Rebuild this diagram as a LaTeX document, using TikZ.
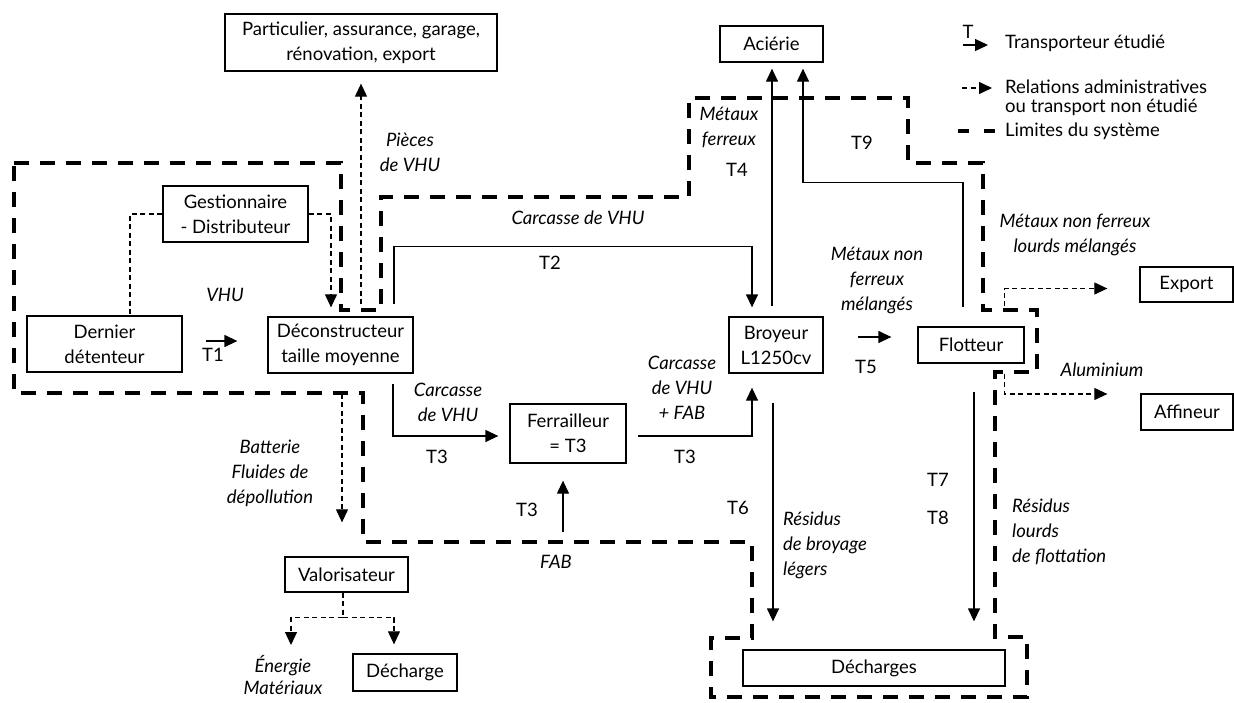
\documentclass[tikz,border=0pt]{standalone}
\usepackage{fontspec}
\setmainfont{Lato}
\usetikzlibrary{arrows.meta,calc}
\newcommand\myfs{\fontsize{18.5}{25}\selectfont}
\begin{document}
\begin{tikzpicture}[x=1pt,y=-1pt,
 box/.style={draw, line width=1.3pt, inner sep=0pt, align=center, font=\myfs},
 flow/.style={line width=1.3pt, -{Triangle[length=13pt,width=12pt]}},
 admin/.style={line width=1.1pt, dash pattern=on 5pt off 3.5pt},
 adminarrow/.style={admin, -{Triangle[length=13pt,width=12pt]}},
 limit/.style={line width=3.2pt, dash pattern=on 15pt off 11pt, line join=miter},
 lab/.style={font=\myfs\itshape, align=center, inner sep=0pt},
 labl/.style={font=\myfs\itshape, align=left, inner sep=0pt},
 tlab/.style={font=\myfs, inner sep=0pt, align=left}]
\fill[white] (0,0) rectangle (1234,702);
\useasboundingbox (0,0) rectangle (1234,702);

% boxes
\node[box, minimum width=272pt, minimum height=57pt] (part) at (361,42.5) {Particulier, assurance, garage,\\rénovation, export};
\node[box, minimum width=103pt, minimum height=36pt] (acier) at (771.5,44) {Aciérie};
\node[box, minimum width=145pt, minimum height=56pt] (gest) at (235.5,214) {Gestionnaire\\- Distributeur};
\node[box, minimum width=155pt, minimum height=56pt] (dern) at (104.5,344) {Dernier\\détenteur};
\node[box, minimum width=145pt, minimum height=56pt] (decon) at (340.5,345) {Déconstructeur\\taille moyenne};
\node[box, minimum width=94pt, minimum height=56pt] (broy) at (776,345) {Broyeur\\L1250cv};
\node[box, minimum width=106pt, minimum height=36pt] (flot) at (971,345) {Flotteur};
\node[box, minimum width=116pt, minimum height=59pt] (ferr) at (568,433.5) {Ferrailleur\\= T3};
\node[box, minimum width=93pt, minimum height=35pt] (export) at (1186.5,284.5) {Export};
\node[box, minimum width=92pt, minimum height=36pt] (affin) at (1187,412) {Affineur};
\node[box, minimum width=123pt, minimum height=35pt] (valor) at (346.5,574.5) {Valorisateur};
\node[box, minimum width=104pt, minimum height=37pt] (dech) at (405,672.5) {Décharge};
\node[box, minimum width=262pt, minimum height=36pt] (dechs) at (874,668) {Décharges};

% system limits
\draw[limit] (14,163) -- (341,163) -- (341,310) -- (381,310) -- (381,197) -- (689,197) -- (689,98) -- (908,98) -- (908,163) -- (983,163) -- (983,310) -- (1037,310) -- (1037,372) -- (995,372) -- (995,637) -- (1027,637) -- (1027,697) -- (711,697) -- (711,638) -- (752,638) -- (752,542) -- (363,542) -- (363,393) -- (14,393) -- cycle;

% studied transports
\draw[flow] ([xshift=23pt,yshift=3pt]dern.east) -- ([xshift=-30pt,yshift=4pt]decon.west);
\draw[flow] ([xshift=53.5pt,yshift=12pt]decon.north) -- ++(0,-58) -| ([xshift=-24pt,yshift=9pt]broy.north);
\draw[flow] ([xshift=-4pt,yshift=10pt]broy.north) -- ([xshift=0.5pt,yshift=-6pt]acier.south);
\draw[flow] ([xshift=-8pt,yshift=19pt]flot.north) -- ++(0,-125) -| ([xshift=31.5pt,yshift=-6pt]acier.south);
\draw[flow] ([xshift=34pt,yshift=8pt]broy.east) -- ([xshift=-26pt,yshift=8pt]flot.west);
\draw[flow] ([xshift=52.5pt,yshift=-10pt]decon.south) |- ([xshift=-11pt,yshift=-2.5pt]ferr.west);
\draw[flow] ([xshift=11pt,yshift=-2.5pt]ferr.east) -| ([xshift=-24pt,yshift=-14pt]broy.south);
\coordinate (fab) at (563,532);
\draw[flow] (fab) -- ([xshift=-5pt,yshift=-17pt]ferr.south);
\draw[flow] ([xshift=-3pt,yshift=-29pt]broy.south) -- ([xshift=-101pt,yshift=28pt]dechs.north);
\draw[flow] ([xshift=3pt,yshift=-28pt]flot.south) -- ([xshift=100pt,yshift=28pt]dechs.north);

% administrative / non studied
\draw[admin] (gest.west) -| ([xshift=25.5pt]dern.north);
\draw[adminarrow] (gest.east) -| ([xshift=-9.5pt,yshift=9pt]decon.north);
\draw[adminarrow] ([xshift=20.5pt,yshift=12pt]decon.north) -- ([yshift=-12pt]part.south);
\draw[adminarrow] ([xshift=1.5pt,yshift=-20pt]decon.south) -- ([xshift=-4.5pt,yshift=34pt]valor.north);
\coordinate (enertip) at (291,645);
\draw[adminarrow] ([xshift=-3.5pt]valor.south) -- ++(0,25) -| (enertip);
\draw[adminarrow] ([xshift=-3.5pt]valor.south) ++(0,25) -| ([xshift=-11pt,yshift=9pt]dech.north);
\draw[adminarrow] ([xshift=-20pt,yshift=20pt]flot.north east) |- ([xshift=-32pt,yshift=-4pt]export.west);
\draw[adminarrow] ([xshift=-20pt,yshift=-10pt]flot.south east) |- ([xshift=-33pt,yshift=18pt]affin.west);

% labels
\node[lab] (lvhu) at (225,295) {VHU};
\node[tlab] (lt1) at (213,355) {T1};
\node[lab] (lpieces) at (410,152) {Pièces\\de VHU};
\node[lab] (lcarc) at (578,218) {Carcasse de VHU};
\node[tlab] (lt2) at (550,263) {T2};
\node[lab] (lferreux) at (729,127) {Métaux\\ferreux};
\node[tlab] (lt4) at (737,170) {T4};
\node[tlab] (lt9) at (862,143) {T9};
\node[lab] (lmnf) at (877,280) {Métaux non\\ferreux\\mélangés};
\node[tlab] (lt5) at (866,367) {T5};
\node[lab] (lmnfl) at (1075,235) {Métaux non ferreux\\lourds mélangés};
\node[lab] (lalu) at (1102,370) {Aluminium};
\node[lab] (lcarc2) at (448,402) {Carcasse\\de VHU};
\node[tlab] (lt3a) at (437,457) {T3};
\node[lab] (lcarc3) at (682,388) {Carcasse\\de VHU\\+ FAB};
\node[tlab] (lt3b) at (685,457) {T3};
\node[tlab] (lt3c) at (527,510) {T3};
\node[lab] (lfab) at (556,562) {FAB};
\node[tlab] (lt6) at (738,508) {T6};
\node[labl, anchor=west] (lrbl) at (783,545) {Résidus\\de broyage\\légers};
\node[tlab] (lt7) at (938,480) {T7};
\node[tlab] (lt8) at (938,518) {T8};
\node[labl, anchor=west] (lrlf) at (1012,532) {Résidus\\lourds\\de flottation};
\node[lab] (lbat) at (270,473) {Batterie\\Fluides de\\dépollution};
\node[lab, font=\fontsize{18.5}{22}\selectfont\itshape] (lener) at (283,675) {Énergie\\Matériaux};

% legend
\node[tlab] (legT) at (968,32) {T};
\coordinate (lg1a) at (963,45); \coordinate (lg1b) at (988,45);
\draw[flow] (lg1a) -- (lg1b);
\node[tlab, anchor=west] (leg1) at (1005,43) {Transporteur étudié};
\coordinate (lg2a) at (962,88); \coordinate (lg2b) at (992,88);
\draw[adminarrow] (lg2a) -- (lg2b);
\node[tlab, anchor=west, font=\fontsize{18.5}{19}\selectfont] (leg2) at (1005,98) {Relations administratives\\ou transport non étudié};
\coordinate (lg3a) at (958,131); \coordinate (lg3b) at (996,131);
\draw[line width=3.2pt, dash pattern=on 11pt off 15pt] (lg3a) -- (lg3b);
\node[tlab, anchor=west] (leg3) at (1005,131) {Limites du système};
\end{tikzpicture}
\end{document}
